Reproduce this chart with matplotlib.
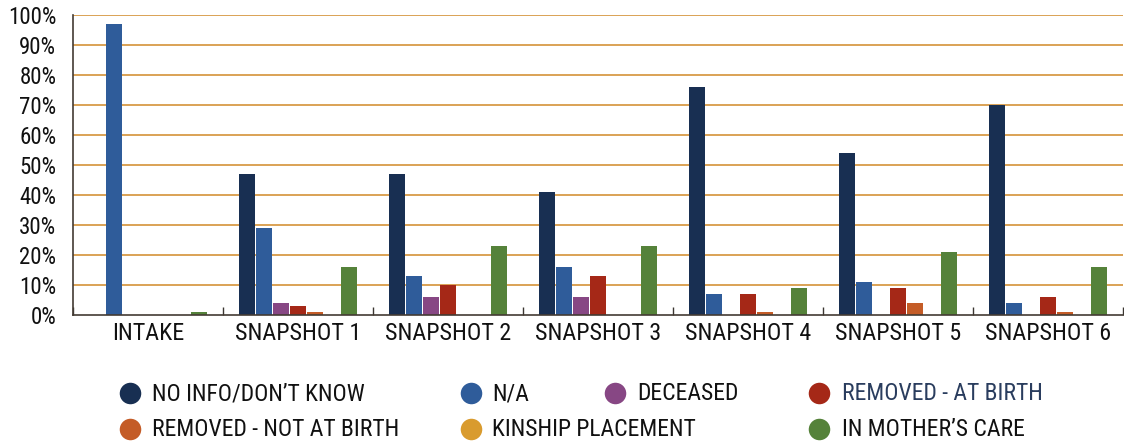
import matplotlib
matplotlib.use("Agg")
import matplotlib.pyplot as plt
from matplotlib.lines import Line2D
from matplotlib.ticker import FixedLocator, PercentFormatter
import numpy as np

# --- data -----------------------------------------------------------------
categories = ["INTAKE", "SNAPSHOT 1", "SNAPSHOT 2", "SNAPSHOT 3",
              "SNAPSHOT 4", "SNAPSHOT 5", "SNAPSHOT 6"]

series_labels = ["NO INFO/DON\u2019T KNOW", "N/A", "DECEASED", "REMOVED - AT BIRTH",
                 "REMOVED - NOT AT BIRTH", "KINSHIP PLACEMENT", "IN MOTHER\u2019S CARE"]

no_info      = [0, 47, 47, 41, 76, 54, 70]
not_applic   = [97, 29, 13, 16, 7, 11, 4]
deceased     = [0, 4, 6, 6, 0, 0, 0]
removed_birth     = [0, 3, 10, 13, 7, 9, 6]
removed_not_birth = [0, 1, 0, 0, 1, 4, 1]
kinship      = [0, 0, 0, 0, 0, 0, 0]
mothers_care = [1, 16, 23, 23, 9, 21, 16]

series_values = [no_info, not_applic, deceased, removed_birth,
                 removed_not_birth, kinship, mothers_care]

series_colors = ["#182f52", "#2f5c9a", "#874784", "#a52817",
                 "#c45c27", "#d99b2e", "#55823a"]

# --- styling ----------------------------------------------------------------
FONT = ["Roboto Condensed", "DejaVu Sans"]
plt.rcParams["font.family"] = FONT

fig = plt.figure(figsize=(11.24, 4.45), dpi=100)
ax = fig.add_axes([73 / 1124, 130 / 445, 1050 / 1124, 300 / 445])

n_series = len(series_values)
step = 17 / 150
width = 16.2 / 150
x = np.arange(len(categories))

for k, (vals, col) in enumerate(zip(series_values, series_colors)):
    offs = (k - (n_series - 1) / 2) * step
    ax.bar(x + offs, vals, width=width, color=col, zorder=3, linewidth=0)

ax.set_xlim(-0.5, len(categories) - 0.5)
ax.set_ylim(0, 100)

# horizontal guide lines
ax.yaxis.set_major_locator(FixedLocator(np.arange(0, 101, 10)))
ax.yaxis.set_major_formatter(PercentFormatter(decimals=0))
for yv in range(10, 101, 10):
    ax.axhline(yv, color="#dba255", lw=1.4, zorder=1)

# category labels centred, boundary ticks pointing inward
ax.set_xticks(x)
ax.set_xticklabels(categories)
ax.set_xticks(np.arange(-0.5, len(categories), 1.0), minor=True)
ax.tick_params(axis="x", which="major", length=0, pad=5, labelsize=17.3, labelcolor="#111111")
ax.tick_params(axis="x", which="minor", direction="in", length=5.5, width=1.0, color="#3a3530")
ax.tick_params(axis="y", length=0, pad=12, labelsize=16.5, labelcolor="#111111")

for side in ("top", "right"):
    ax.spines[side].set_visible(False)
for side in ("left", "bottom"):
    ax.spines[side].set_color("#433b33")
    ax.spines[side].set_linewidth(1.2)
    ax.spines[side].set_zorder(4)

# --- legend (two rows, hand-placed) -----------------------------------------
W, H = 1124, 445
legend_slots = [  # (circle x, text x, row y) in pixels
    (129.5, 152, 393), (471, 492, 393), (615, 637, 393), (819, 842, 393),
    (129.5, 152, 429), (471, 492, 429), (819, 842, 429),
]
text_colors = ["#111111", "#111111", "#111111", "#2a3d5e",
               "#111111", "#111111", "#111111"]
for (cx, tx, ry), lab, col, tc in zip(legend_slots, series_labels, series_colors, text_colors):
    fig.add_artist(Line2D([cx / W], [1 - ry / H], transform=fig.transFigure,
                          marker="o", markersize=15.5, color=col, markeredgewidth=0,
                          linestyle="none"))
    fig.text(tx / W, 1 - (ry + 1) / H, lab, fontsize=17, color=tc,
             ha="left", va="center")

fig.savefig("out.png", dpi=100, facecolor="white")
